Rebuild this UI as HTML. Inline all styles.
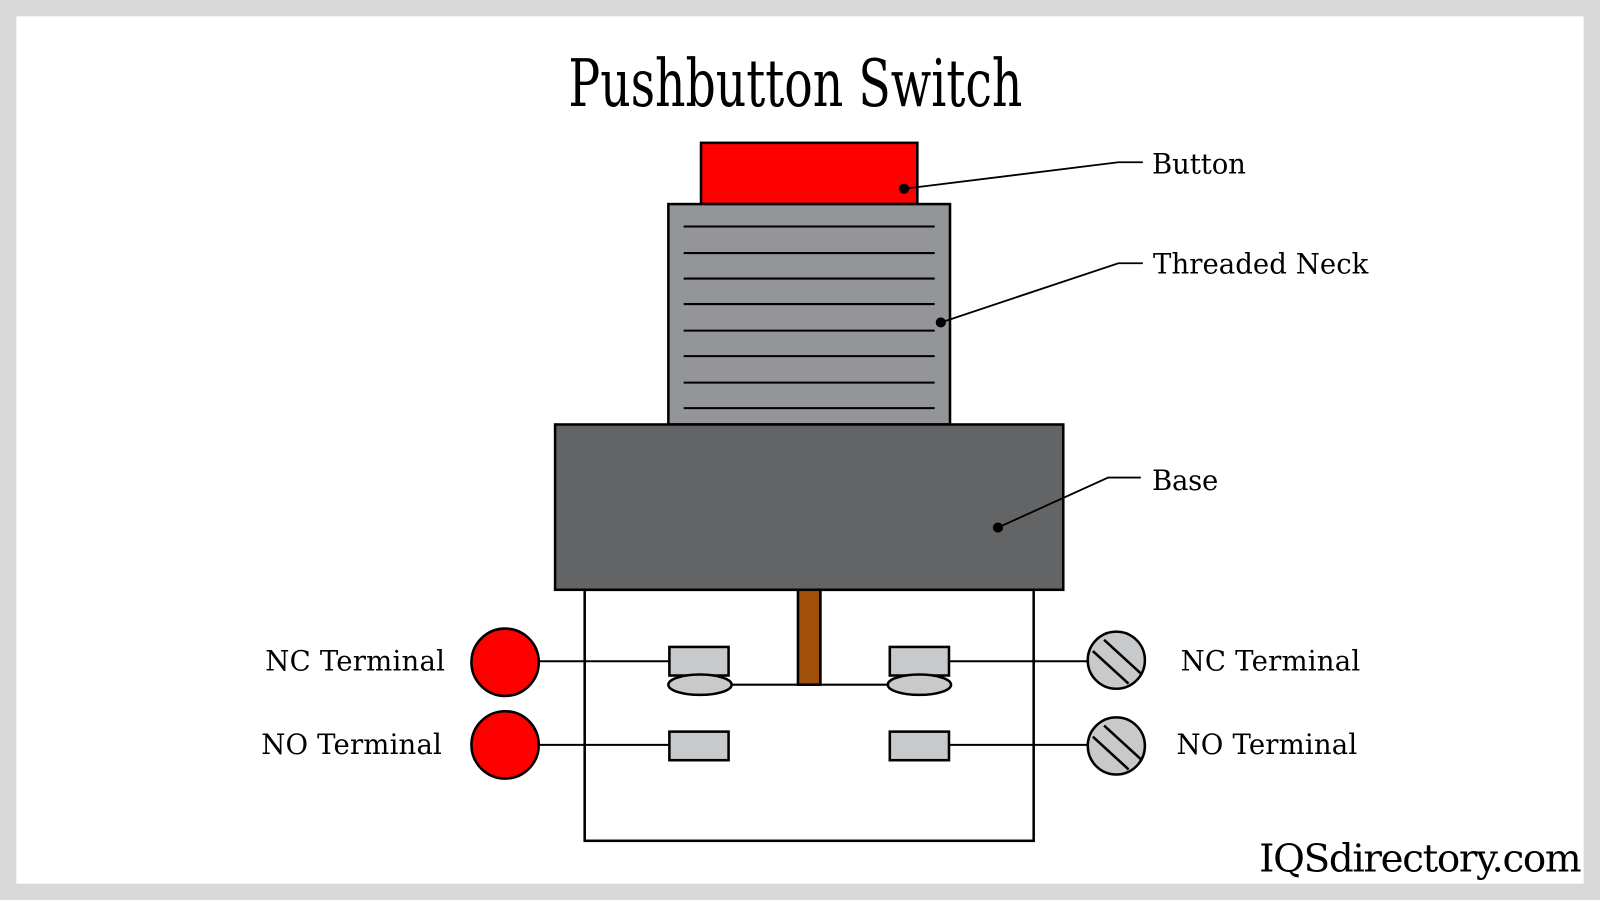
<!DOCTYPE html>
<html><head><style>
html,body{margin:0;padding:0;background:#d9d9d9;}
svg{display:block}
</style></head><body>
<svg width="1600" height="900" viewBox="0 0 1568 882" preserveAspectRatio="none" xmlns="http://www.w3.org/2000/svg">
<rect x="0" y="0" width="1568" height="882" fill="#d9d9d9"/>
<rect x="16" y="16" width="1536" height="850" fill="#fff"/>
<text x="557" y="104" font-family="'DejaVu Serif Condensed','DejaVu Serif','Liberation Serif',serif" font-size="64" textLength="445" lengthAdjust="spacingAndGlyphs" fill="#000">Pushbutton Switch</text>
<g stroke="#000" stroke-width="2.5">
<rect x="687" y="140" width="212" height="60" fill="#ff0000"/>
<rect x="655" y="200" width="276" height="216" fill="#939598"/>
<g stroke-width="2">
<line x1="670" y1="222" x2="916" y2="222"/><line x1="670" y1="248" x2="916" y2="248"/>
<line x1="670" y1="273" x2="916" y2="273"/><line x1="670" y1="298" x2="916" y2="298"/>
<line x1="670" y1="324" x2="916" y2="324"/><line x1="670" y1="349" x2="916" y2="349"/>
<line x1="670" y1="375" x2="916" y2="375"/><line x1="670" y1="400" x2="916" y2="400"/>
</g>
<rect x="544" y="416" width="498" height="162" fill="#636466"/>
<rect x="573" y="578" width="440" height="246" fill="none"/>
<rect x="782" y="578" width="22" height="93" fill="#a0500a"/>
<g stroke-width="2">
<line x1="528" y1="648" x2="656" y2="648"/>
<line x1="528" y1="730" x2="656" y2="730"/>
<line x1="930" y1="648" x2="1066" y2="648"/>
<line x1="930" y1="730" x2="1066" y2="730"/>
<line x1="716" y1="671" x2="870" y2="671"/>
</g>
<rect x="656" y="634" width="58" height="28" fill="#c8c9cb"/>
<rect x="872" y="634" width="58" height="28" fill="#c8c9cb"/>
<rect x="656" y="717" width="58" height="28" fill="#c8c9cb"/>
<rect x="872" y="717" width="58" height="28" fill="#c8c9cb"/>
<ellipse cx="686" cy="671" rx="31" ry="10" fill="#c8c9cb"/>
<ellipse cx="901" cy="671" rx="31" ry="10" fill="#c8c9cb"/>
<circle cx="495" cy="649" r="33" fill="#ff0000"/>
<circle cx="495" cy="730" r="33" fill="#ff0000"/>
<circle cx="1094" cy="647" r="28" fill="#c8c9cb"/>
<circle cx="1094" cy="731" r="28" fill="#c8c9cb"/>
<line x1="1082" y1="627" x2="1118" y2="660"/><line x1="1071" y1="638" x2="1106" y2="670"/>
<line x1="1082" y1="711" x2="1118" y2="744"/><line x1="1071" y1="722" x2="1106" y2="754"/>
<g stroke-width="1.8" fill="none">
<polyline points="886,185 1096,159 1120,159"/>
<polyline points="922,316 1096,258 1120,258"/>
<polyline points="978,517 1086,468 1118,468"/>
</g>
</g>
<circle cx="886" cy="185" r="5" fill="#000"/>
<circle cx="922" cy="316" r="5" fill="#000"/>
<circle cx="978" cy="517" r="5" fill="#000"/>
<g font-family="'DejaVu Serif','Liberation Serif',serif" font-size="27" fill="#000">
<text x="1129" y="170" textLength="92">Button</text>
<text x="1130" y="268" textLength="211">Threaded Neck</text>
<text x="1129" y="480" textLength="65">Base</text>
<text x="260" y="657" textLength="176">NC Terminal</text>
<text x="256" y="739" textLength="177">NO Terminal</text>
<text x="1157" y="657" textLength="176">NC Terminal</text>
<text x="1153" y="739" textLength="177">NO Terminal</text>
<text x="1234" y="854" font-size="38" textLength="316">IQSdirectory.com</text>
</g>
</svg>
</body></html>
